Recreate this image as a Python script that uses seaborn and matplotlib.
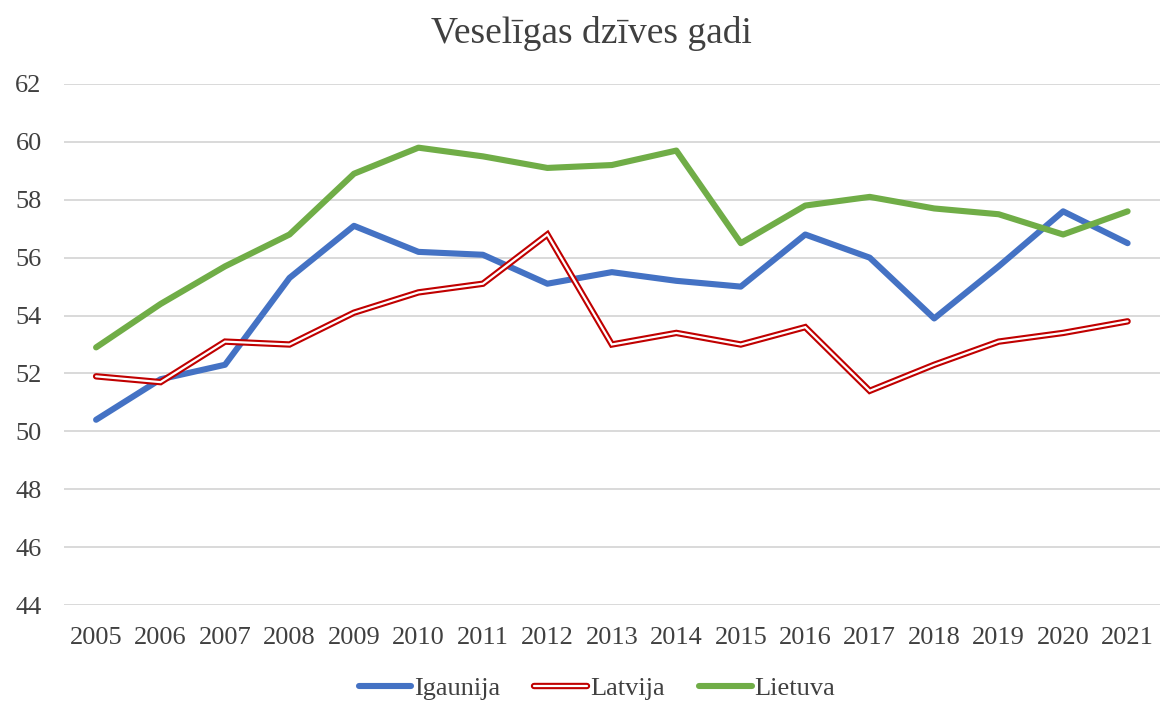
import matplotlib
matplotlib.use("Agg")
import matplotlib.pyplot as plt
import seaborn as sns
import pandas as pd
from matplotlib.lines import Line2D

years = list(range(2005, 2022))
igaunija = [50.4, 51.8, 52.3, 55.3, 57.1, 56.2, 56.1, 55.1, 55.5, 55.2, 55.0, 56.8, 56.0, 53.9, 55.7, 57.6, 56.5]
latvija = [51.9, 51.7, 53.1, 53.0, 54.1, 54.8, 55.1, 56.8, 53.0, 53.4, 53.0, 53.6, 51.4, 52.3, 53.1, 53.4, 53.8]
lietuva = [52.9, 54.4, 55.7, 56.8, 58.9, 59.8, 59.5, 59.1, 59.2, 59.7, 56.5, 57.8, 58.1, 57.7, 57.5, 56.8, 57.6]
yticks = [44, 46, 48, 50, 52, 54, 56, 58, 60, 62]
title = "Veselīgas dzīves gadi"

sns.set_theme(style="white")
plt.rcParams['font.family'] = ['Liberation Serif', 'DejaVu Serif']

blue = "#4472C4"
red = "#C00000"
green = "#70AD47"
txt = "#404040"

df = pd.DataFrame({"year": [str(y) for y in years], "Igaunija": igaunija,
                   "Latvija": latvija, "Lietuva": lietuva})

fig = plt.figure(figsize=(11.61, 7.04), dpi=100)
ax = fig.add_axes([0.055, 0.1406, 0.944, 0.7401])

for yv in yticks:
    ax.axhline(yv, color="#D9D9D9", lw=1.4, zorder=0)

sns.lineplot(data=df, x="year", y="Igaunija", ax=ax, color=blue, lw=4.4,
             solid_capstyle="round", solid_joinstyle="round", sort=False)
sns.lineplot(data=df, x="year", y="Latvija", ax=ax, color=red, lw=4.6,
             solid_capstyle="round", solid_joinstyle="miter", sort=False)
sns.lineplot(data=df, x="year", y="Latvija", ax=ax, color="white", lw=1.6,
             solid_capstyle="round", solid_joinstyle="miter", sort=False)
sns.lineplot(data=df, x="year", y="Lietuva", ax=ax, color=green, lw=4.4,
             solid_capstyle="round", solid_joinstyle="round", sort=False)

ax.set_xlim(-0.5, len(years) - 0.5)
ax.set_ylim(44, 62)
ax.set_yticks(yticks)
ax.set_xlabel("")
ax.set_ylabel("")
for s in ax.spines.values():
    s.set_visible(False)
ax.tick_params(axis="both", length=0, labelsize=19, colors=txt)
ax.tick_params(axis="x", pad=16)
ax.tick_params(axis="y", pad=16)

fig.text(0.509, 0.953, title, ha="center", va="center", fontsize=27, color=txt)

h1 = Line2D([], [], color=blue, lw=4.4, solid_capstyle="round")
h2 = (Line2D([], [], color=red, lw=4.6, solid_capstyle="round"),
      Line2D([], [], color="white", lw=1.6))
h3 = Line2D([], [], color=green, lw=4.4, solid_capstyle="round")
leg = fig.legend([h1, h2, h3], ["Igaunija", "Latvija", "Lietuva"], loc="center",
                 bbox_to_anchor=(0.514, 0.022), ncol=3, frameon=False, fontsize=19,
                 handlelength=2.0, handletextpad=0.1, columnspacing=1.3)
for t in leg.get_texts():
    t.set_color(txt)

fig.savefig("out.png", dpi=100)
